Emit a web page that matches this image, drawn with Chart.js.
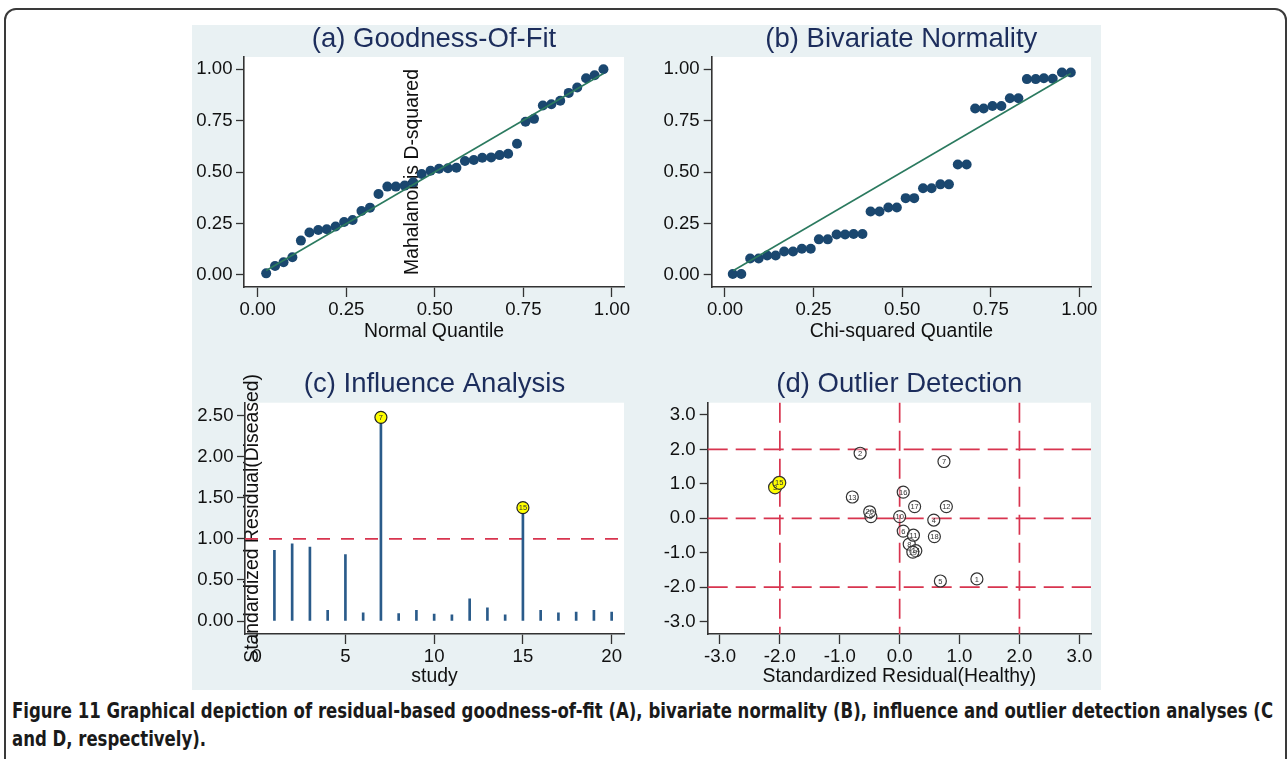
<!DOCTYPE html>
<html>
<head>
<meta charset="utf-8">
<script src="https://cdn.jsdelivr.net/npm/chart.js@4.4.1/dist/chart.umd.min.js"></script>
<style>
  html, body { margin: 0; padding: 0; background: #fff; width: 1287px; height: 759px; overflow: hidden; }
  #frame { position: absolute; left: 4px; top: 8px; width: 1283px; height: 800px; border: 2px solid #3a3a3a; border-radius: 12px; box-sizing: border-box; }
  #panel { position: absolute; left: 192px; top: 25px; width: 909px; height: 665px; background: #e9f1f3; }
  canvas { position: absolute; }
  #caption { position: absolute; left: 12px; top: 697px; font: bold 21px "Liberation Sans Narrow", "DejaVu Sans Condensed", "Liberation Sans", sans-serif; line-height: 28px; color: #1a1a1a; white-space: nowrap; transform-origin: 0 0; }
</style>
</head>
<body>
<div id="frame"></div>
<div id="panel"></div>
<canvas id="fit" width="448" height="325" style="left:192px;top:20px"></canvas>
<canvas id="normality" width="461" height="325" style="left:640px;top:20px"></canvas>
<canvas id="influence" width="448" height="325" style="left:192px;top:365px"></canvas>
<canvas id="outlier" width="461" height="325" style="left:640px;top:365px"></canvas>
<div id="caption"><span id="line1">Figure 11 Graphical depiction of residual-based goodness-of-fit (A), bivariate normality (B), influence and outlier detection analyses (C</span><br>and D, respectively).</div>
<script>
// (a) goodness of fit
const normQuantile = [0.024, 0.049, 0.073, 0.098, 0.122, 0.146, 0.171, 0.195, 0.220, 0.244,
  0.268, 0.293, 0.317, 0.341, 0.366, 0.390, 0.415, 0.439, 0.463, 0.488,
  0.512, 0.537, 0.561, 0.585, 0.610, 0.634, 0.659, 0.683, 0.707, 0.732,
  0.756, 0.780, 0.805, 0.829, 0.854, 0.878, 0.902, 0.927, 0.951, 0.976]
const mahalanobisD2 = [0.008, 0.044, 0.062, 0.086, 0.167, 0.206, 0.218, 0.222, 0.235, 0.257,
  0.267, 0.311, 0.327, 0.393, 0.429, 0.429, 0.434, 0.450, 0.490, 0.506,
  0.516, 0.518, 0.521, 0.553, 0.558, 0.569, 0.571, 0.582, 0.589, 0.637,
  0.744, 0.758, 0.823, 0.829, 0.846, 0.884, 0.910, 0.955, 0.970, 0.999]

// (b) bivariate normality
const chiQuantile = [0.022, 0.046, 0.071, 0.095, 0.119, 0.143, 0.167, 0.192, 0.217, 0.242,
  0.265, 0.290, 0.315, 0.339, 0.363, 0.388, 0.411, 0.436, 0.461, 0.485,
  0.510, 0.534, 0.559, 0.583, 0.608, 0.632, 0.657, 0.682, 0.706, 0.730,
  0.755, 0.780, 0.804, 0.828, 0.852, 0.877, 0.900, 0.925, 0.951, 0.976]
const chiD2 = [0.005, 0.005, 0.080, 0.080, 0.095, 0.095, 0.114, 0.114, 0.127, 0.127,
  0.173, 0.173, 0.197, 0.197, 0.199, 0.199, 0.308, 0.308, 0.328, 0.328,
  0.373, 0.373, 0.421, 0.421, 0.440, 0.440, 0.536, 0.536, 0.808, 0.808,
  0.820, 0.820, 0.858, 0.858, 0.951, 0.951, 0.955, 0.953, 0.983, 0.983]

// reference diagonal for (a) and (b)
const diagX = [0.024, 0.976]
const diagY = [0.022, 0.978]
const quantileTicks = [0, 0.25, 0.5, 0.75, 1]

// (c) influence analysis
const infStudy = [1, 2, 3, 4, 5, 6, 7, 8, 9, 10, 11, 12, 13, 14, 15, 16, 17, 18, 19, 20]
const infResidual = [0.86, 0.94, 0.90, 0.13, 0.81, 0.10, 2.48, 0.09, 0.13, 0.085,
  0.075, 0.27, 0.16, 0.075, 1.38, 0.13, 0.10, 0.11, 0.13, 0.11]
const infFlagged = [7, 15]
const infCutoff = [1]
const infXTicks = [0, 5, 10, 15, 20]
const infYTicks = [0, 0.5, 1, 1.5, 2, 2.5]

// (d) outlier detection
const detLabel = ['1', '2', '3', '4', '5', '6', '7', '8', '9', '10',
  '11', '12', '13', '14', '15', '16', '17', '18', '19', '20']
const detHealthy = [1.29, -0.66, -2.08, 0.57, 0.68, 0.06, 0.74, 0.16, -0.48, 0.00,
  0.23, 0.78, -0.79, 0.27, -2.01, 0.06, 0.25, 0.58, 0.22, -0.50]
const detDiseased = [-1.76, 1.89, 0.90, -0.05, -1.82, -0.37, 1.65, -0.75, 0.05, 0.05,
  -0.49, 0.34, 0.62, -0.94, 1.03, 0.76, 0.34, -0.53, -0.98, 0.19]
const detFlagged = ['3', '15']
const detCutoffs = [-2, 0, 2]
const detTicks = [-3, -2, -1, 0, 1, 2, 3]

const FONT = 'Liberation Sans, Arial, sans-serif'
const tickFont = { family: FONT, size: 18.6 }
const axisTitleFont = { family: FONT, size: 19.4 }
const navy = '#1a476f'

// white plot region
const plotBg = {
  id: 'plotBg',
  beforeDraw(chart) {
    const { ctx, chartArea: a } = chart
    ctx.save()
    ctx.fillStyle = '#fff'
    ctx.fillRect(a.left, a.top, a.right - a.left, a.bottom - a.top)
    ctx.restore()
  }
}

// dashed cut-off lines
const refLines = {
  id: 'refLines',
  beforeDatasetsDraw(chart, args, opts) {
    const { ctx, chartArea: a, scales } = chart
    ctx.save()
    ctx.strokeStyle = '#d8344f'
    ctx.lineWidth = 1.7
    ctx.setLineDash(opts.dash || [18, 8])
    ;(opts.x || []).forEach(v => {
      const px = scales.x.getPixelForValue(v)
      ctx.beginPath(); ctx.moveTo(px, a.top); ctx.lineTo(px, a.bottom); ctx.stroke()
    })
    ;(opts.y || []).forEach(v => {
      const py = scales.y.getPixelForValue(v)
      ctx.beginPath(); ctx.moveTo(a.left, py); ctx.lineTo(a.right, py); ctx.stroke()
    })
    ctx.restore()
  }
}

// study numbers inside the circles
const circleLabels = {
  id: 'circleLabels',
  afterDatasetsDraw(chart, args, opts) {
    const { ctx } = chart
    const meta = chart.getDatasetMeta(opts.dataset)
    ctx.save()
    ctx.font = '7.5px ' + FONT
    ctx.fillStyle = '#333'
    ctx.textAlign = 'center'
    ctx.textBaseline = 'middle'
    meta.data.forEach((pt, i) => ctx.fillText(opts.labels[i], pt.x, pt.y + 0.5))
    ctx.restore()
  }
}

function axis(o) {
  return {
    type: 'linear',
    position: o.position,
    min: o.min,
    max: o.max,
    bounds: 'data',
    offset: false,
    z: o.z || 0,
    afterBuildTicks: ax => { ax.ticks = o.ticks.map(v => ({ value: v })) },
    afterFit: ax => {
      if (o.position === 'bottom') ax.height = o.size
      else ax.width = o.size
      ax.paddingLeft = ax.paddingRight = ax.paddingTop = ax.paddingBottom = 0
    },
    grid: { drawOnChartArea: false, drawTicks: true, offset: false, tickLength: o.tickLength, color: '#333', tickColor: '#333', tickWidth: 1.3 },
    border: { display: true, color: '#333', width: 1.6 },
    ticks: { font: tickFont, color: '#111', padding: o.pad, maxRotation: 0, minRotation: 0, autoSkip: false, callback: v => v.toFixed(o.digits) },
    title: o.title
      ? { display: true, text: o.title, color: '#111', font: axisTitleFont, padding: o.titlePad }
      : { display: false }
  }
}

function titleOpts(text, padTop, padBottom) {
  return {
    display: true,
    text: text,
    fullSize: false,
    color: '#1c2d5c',
    font: { family: FONT, size: 27.5, weight: 'normal' },
    padding: { top: padTop, bottom: padBottom }
  }
}

const common = {
  responsive: false,
  animation: false,
  events: []
}

// (a)
new Chart(document.getElementById('fit'), {
  type: 'scatter',
  data: {
    datasets: [{
      data: diagX.map((x, i) => ({ x, y: diagY[i] })),
      showLine: true,
      borderColor: '#2b7a5f',
      borderWidth: 1.6,
      pointRadius: 0
    }, {
      data: normQuantile.map((x, i) => ({ x, y: mahalanobisD2[i] })),
      pointRadius: 5,
      pointBackgroundColor: navy,
      pointBorderWidth: 0
    }]
  },
  options: {
    ...common,
    layout: { padding: { left: 0, right: 16, top: 0, bottom: 0 } },
    plugins: {
      legend: { display: false },
      tooltip: { enabled: false },
      title: titleOpts('(a) Goodness-Of-Fit', 2.5, 1.5)
    },
    scales: {
      x: axis({ position: 'bottom', min: -0.0386, max: 1.034, ticks: quantileTicks, digits: 2, size: 58, tickLength: 10, pad: 2, title: 'Normal Quantile', titlePad: { top: 0, bottom: 2 } }),
      y: axis({ position: 'left', min: -0.0583, max: 1.0583, ticks: quantileTicks, digits: 2, size: 52, tickLength: 8, pad: 3.5, z: 1, title: 'Mahalanobis D-squared', titlePad: { top: 209, bottom: 0 } })
    }
  },
  plugins: [plotBg]
})

// (b)
new Chart(document.getElementById('normality'), {
  type: 'scatter',
  data: {
    datasets: [{
      data: diagX.map((x, i) => ({ x, y: diagY[i] })),
      showLine: true,
      borderColor: '#2b7a5f',
      borderWidth: 1.6,
      pointRadius: 0
    }, {
      data: chiQuantile.map((x, i) => ({ x, y: chiD2[i] })),
      pointRadius: 5,
      pointBackgroundColor: navy,
      pointBorderWidth: 0
    }]
  },
  options: {
    ...common,
    layout: { padding: { left: 0, right: 10, top: 0, bottom: 0 } },
    plugins: {
      legend: { display: false },
      tooltip: { enabled: false },
      title: titleOpts('(b) Bivariate Normality', 2.5, 1.5)
    },
    scales: {
      x: axis({ position: 'bottom', min: -0.0375, max: 1.033, ticks: quantileTicks, digits: 2, size: 58, tickLength: 10, pad: 2, title: 'Chi-squared Quantile', titlePad: { top: 0, bottom: 2 } }),
      y: axis({ position: 'left', min: -0.0583, max: 1.0583, ticks: quantileTicks, digits: 2, size: 71.7, tickLength: 8, pad: 4 })
    }
  },
  plugins: [plotBg]
})

// (c)
new Chart(document.getElementById('influence'), {
  type: 'bar',
  data: {
    datasets: [{
      type: 'scatter',
      data: infFlagged.map(s => ({ x: s, y: infResidual[infStudy.indexOf(s)] })),
      pointRadius: 6,
      pointBackgroundColor: '#ffff00',
      pointBorderColor: '#222',
      pointBorderWidth: 1.2
    }, {
      type: 'bar',
      data: infStudy.map((s, i) => ({ x: s, y: infResidual[i] })),
      backgroundColor: '#2a5b8a',
      barThickness: 2
    }]
  },
  options: {
    ...common,
    layout: { padding: { left: 0, right: 16, top: 0, bottom: 0 } },
    plugins: {
      legend: { display: false },
      tooltip: { enabled: false },
      title: titleOpts('(c) Influence Analysis', 2.5, 2.2),
      refLines: { y: infCutoff, dash: [13, 11] },
      circleLabels: { dataset: 0, labels: infFlagged.map(String) }
    },
    scales: {
      x: axis({ position: 'bottom', min: -0.657, max: 20.695, ticks: infXTicks, digits: 0, size: 56, tickLength: 10, pad: 1.5, title: 'study', titlePad: { top: 0, bottom: 1.8 } }),
      y: axis({ position: 'left', min: -0.158, max: 2.658, ticks: infYTicks, digits: 2, size: 53, tickLength: 8, pad: 3.5, z: 1, title: 'Standardized Residual(Diseased)', titlePad: { top: 49, bottom: 0 } })
    }
  },
  plugins: [plotBg, refLines, circleLabels]
})

// (d)
new Chart(document.getElementById('outlier'), {
  type: 'scatter',
  data: {
    datasets: [{
      data: detHealthy.map((x, i) => ({ x, y: detDiseased[i] })),
      pointRadius: c => detFlagged.includes(detLabel[c.dataIndex]) ? 6.5 : 6,
      pointBackgroundColor: c => detFlagged.includes(detLabel[c.dataIndex]) ? '#ffff00' : 'rgba(255,255,255,0.35)',
      pointBorderColor: '#333',
      pointBorderWidth: 1.2
    }]
  },
  options: {
    ...common,
    layout: { padding: { left: 0, right: 10, top: 0, bottom: 0 } },
    plugins: {
      legend: { display: false },
      tooltip: { enabled: false },
      title: titleOpts('(d) Outlier Detection', 2.5, 2.2),
      refLines: { x: detCutoffs, y: detCutoffs, dash: [20, 8] },
      circleLabels: { dataset: 0, labels: detLabel }
    },
    scales: {
      x: axis({ position: 'bottom', min: -3.205, max: 3.195, ticks: detTicks, digits: 1, size: 56, tickLength: 10, pad: 1.5, title: 'Standardized Residual(Healthy)', titlePad: { top: 0, bottom: 1.8 } }),
      y: axis({ position: 'left', min: -3.358, max: 3.357, ticks: detTicks, digits: 1, size: 67.7, tickLength: 8, pad: 4 })
    }
  },
  plugins: [plotBg, refLines, circleLabels]
})

// stretch caption so its first line spans like the original
const cap = document.getElementById('caption')
const w1 = document.getElementById('line1').getBoundingClientRect().width
cap.style.transform = 'scaleX(' + (1261 / w1) + ')'
</script>
</body>
</html>
